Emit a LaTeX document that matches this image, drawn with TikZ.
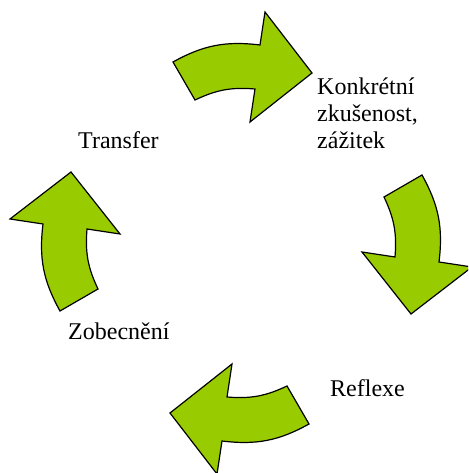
\documentclass[tikz,border=0pt]{standalone}
\usepackage{fontspec}
\setmainfont{Liberation Serif}
\usetikzlibrary{positioning}
\definecolor{arrowgreen}{HTML}{99CC00}

\begin{document}
\begin{tikzpicture}[x=1pt, y=1pt,
  cyclearrow/.style={fill=arrowgreen, draw=black, line width=1.2pt, line join=miter},
  steplabel/.style={font=\fontsize{24}{27}\selectfont, inner sep=0pt, align=left, anchor=base west}]
\useasboundingbox (0,0) rectangle (468,473);
\clip (0,0) rectangle (468,473);

% Four curved arrows around the cycle centre
\foreach \ang in {0,-90,-180,-270} {
  \begin{scope}[shift={(241,230)}, rotate=\ang]
    \draw[cyclearrow] (-68,181) to[bend left=18] (19,198) -- (24,231) -- (71,170)
      -- (9,121) -- (14,154) to[bend right=15] (-46,143) -- cycle;
  \end{scope}
}

% Stage labels
\node[steplabel] (zkusenost) at (317,324) {Konkrétní\\zkušenost,\\zážitek};
\node[steplabel] (reflexe) at (330,76) {Reflexe};
\node[steplabel] (zobecneni) at (68,133) {Zobecnění};
\node[steplabel] (transfer) at (78,324) {Transfer};

\end{tikzpicture}
\end{document}
